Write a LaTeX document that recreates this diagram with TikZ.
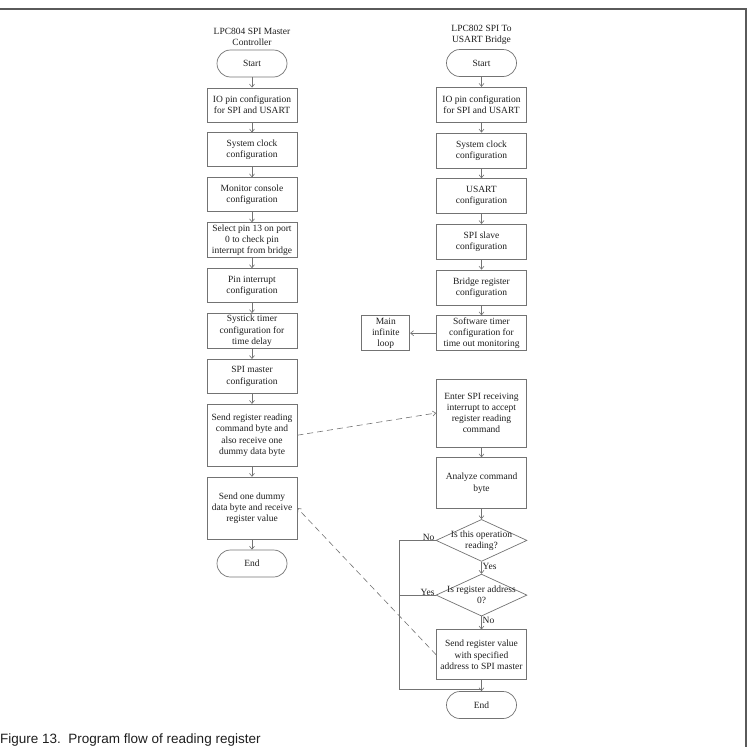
\documentclass[tikz,border=0pt]{standalone}
\usepackage{fontspec}
\setmainfont{Liberation Serif}
\newfontfamily\capfont{Liberation Sans}
\usepackage{tikz}
\usetikzlibrary{arrows.meta,positioning,calc,shapes.geometric}
\definecolor{flowline}{RGB}{115,115,115}
\definecolor{flowtext}{RGB}{30,30,30}
\definecolor{framegray}{RGB}{90,90,90}

\begin{document}
\begin{tikzpicture}[
    x=1pt, y=1pt,
    font=\fontsize{9.5}{11.2}\selectfont,
    >={Straight Barb[length=3pt,width=5pt]},
    blk/.style={draw=flowline, line width=0.7pt, text=flowtext, align=center, minimum width=90pt, minimum height=34pt, inner sep=1pt},
    term/.style={blk, rounded corners=13.5pt, minimum width=70pt, minimum height=27pt},
    dec/.style={draw=flowline, line width=0.7pt, diamond, minimum width=91pt, minimum height=42pt, inner sep=0pt},
    lbl/.style={text=flowtext, inner sep=1pt},
    arr/.style={->, draw=flowline, line width=0.6pt},
    link/.style={draw=flowline, line width=0.6pt},
    dasharr/.style={arr, dash pattern=on 6pt off 4pt},
    node distance=10.2pt
]
    \useasboundingbox (0,0) rectangle (753,-747);
    \draw[framegray, line width=1.5pt] (0,-9) -- (746,-9) -- (746,-747);

    % master side
    \node[term] (mstart) at (252,-63.5) {Start};
    \node[lbl, align=center, above=3pt of mstart] (mtitle) {LPC804 SPI Master\\Controller};
    \node[blk, below=of mstart] (mio) {IO pin configuration\\for SPI and USART};
    \node[blk, below=of mio] (mclk) {System clock\\configuration};
    \node[blk, below=of mclk] (mcon) {Monitor console\\configuration};
    \node[blk, below=of mcon, minimum height=35pt] (mpin) {Select pin 13 on port\\0 to check pin\\interrupt from bridge};
    \node[blk, below=of mpin] (mint) {Pin interrupt\\configuration};
    \node[blk, below=of mint, minimum height=35pt] (msys) {Systick timer\\configuration for\\time delay};
    \node[blk, below=of msys] (mspi) {SPI master\\configuration};
    \node[blk, below=of mspi, minimum height=62pt] (msend) {Send register reading\\command byte and\\also receive one\\dummy data byte};
    \node[blk, below=of msend, minimum height=62pt] (mrecv) {Send one dummy\\data byte and receive\\register value};
    \node[term, below=of mrecv] (mend) {End};

    % bridge side
    \node[term] (bstart) at (481.5,-63) {Start};
    \node[lbl, align=center, above=3pt of bstart] (btitle) {LPC802 SPI To\\USART Bridge};
    \node[blk, below=10pt of bstart, minimum height=35pt] (bio) {IO pin configuration\\for SPI and USART};
    \node[blk, below=10pt of bio, minimum height=35pt] (bclk) {System clock\\configuration};
    \node[blk, below=10pt of bclk, minimum height=35pt] (busart) {USART\\configuration};
    \node[blk, below=10pt of busart, minimum height=35pt] (bslave) {SPI slave\\configuration};
    \node[blk, below=10pt of bslave, minimum height=35pt] (breg) {Bridge register\\configuration};
    \node[blk, below=10pt of breg, minimum height=35pt] (btimer) {Software timer\\configuration for\\time out monitoring};
    \node[blk, left=26pt of btimer, minimum width=48pt, minimum height=35pt] (bloop) {Main\\infinite\\loop};

    \node[blk, minimum height=68pt] (benter) at (481.5,-413) {Enter SPI receiving\\interrupt to accept\\register reading\\command};
    \node[blk, below=10pt of benter, minimum height=51pt] (bana) {Analyze command\\byte};
    \node[dec, below=10pt of bana, label={[lbl, align=center]center:{Is this operation\\reading?}}] (bq1) {};
    \node[dec, below=12pt of bq1, label={[lbl, align=center]center:{Is register address\\0?}}] (bq2) {};
    \node[blk, below=13pt of bq2, minimum height=50pt] (bval) {Send register value\\with specified\\address to SPI master};
    \node[term, below=11pt of bval] (bend) {End};

    \node[lbl, anchor=base east] (bno1) at (bq1.west) {No};
    \node[lbl, anchor=north west] (byes1) at (bq1.south) {Yes};
    \node[lbl, anchor=base east] (byes2) at (bq2.west) {Yes};
    \node[lbl, anchor=north west] (bno2) at (bq2.south) {No};

    \node[lbl, anchor=base west, font=\capfont\fontsize{13.5}{15}\selectfont, inner sep=0pt] (caption) at (0,-743) {Figure 13.\ \ Program flow of reading register};

    \draw[arr] (mstart) -- (mio);
    \draw[arr] (mio) -- (mclk);
    \draw[arr] (mclk) -- (mcon);
    \draw[arr] (mcon) -- (mpin);
    \draw[arr] (mpin) -- (mint);
    \draw[arr] (mint) -- (msys);
    \draw[arr] (msys) -- (mspi);
    \draw[arr] (mspi) -- (msend);
    \draw[arr] (msend) -- (mrecv);
    \draw[arr] (mrecv) -- (mend);

    \draw[arr] (bstart) -- (bio);
    \draw[arr] (bio) -- (bclk);
    \draw[arr] (bclk) -- (busart);
    \draw[arr] (busart) -- (bslave);
    \draw[arr] (bslave) -- (breg);
    \draw[arr] (breg) -- (btimer);
    \draw[arr] (btimer) -- (bloop);
    \draw[arr] (benter) -- (bana);
    \draw[arr] (bana) -- (bq1);
    \draw[arr] (bq1) -- (bq2);
    \draw[arr] (bq2) -- (bval);
    \draw[arr] (bval) -- (bend);

    \coordinate (bleft) at ($(bq1.west)+(-36,0)$);
    \coordinate (bjoin) at ($(bend.north)+(0,2)$);
    \draw[link] (bq1.west) -- (bleft) |- (bjoin);
    \draw[link] (bq2.west) -- (bq2.west -| bleft);

    \draw[dasharr] (msend.east) -- (benter.west);
    \draw[dasharr] (bval.west) -- (mrecv.east);
\end{tikzpicture}
\end{document}
